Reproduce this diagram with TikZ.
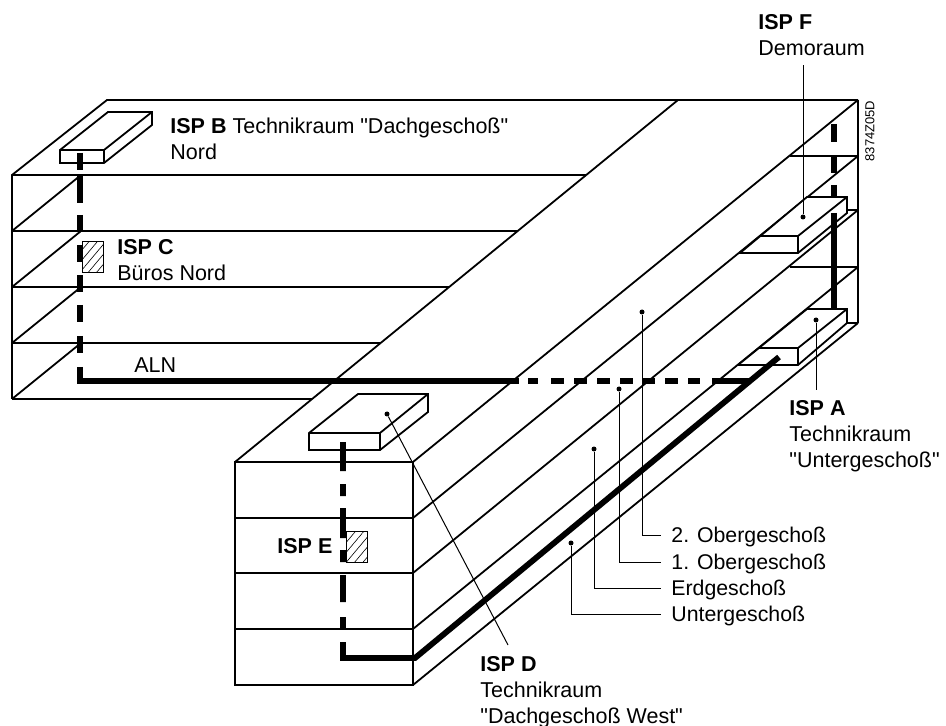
\documentclass[tikz,border=0pt]{standalone}
\usepackage{fontspec}
\setmainfont{Liberation Sans}
\newfontfamily\ispfont{Liberation Sans}
\usetikzlibrary{arrows.meta,positioning,calc,patterns.meta}

\begin{document}
\begin{tikzpicture}[x=0.5pt,y=-0.5pt,line join=miter]
\tikzstyle{wall}=[draw,line width=0.9pt]
\tikzstyle{platform}=[draw,fill=white,line width=0.9pt]
\tikzstyle{cable}=[draw,line width=2.9pt]
\tikzstyle{lead}=[draw,line width=0.5pt]
\tikzstyle{spot}=[circle,fill=black,inner sep=0pt,minimum size=2.5pt]
\tikzstyle{isp}=[inner sep=0pt,anchor=north west,align=left,font=\ispfont\fontsize{10.75}{13}\selectfont]
\tikzstyle{floorname}=[inner sep=0pt,inner xsep=5pt,text height=8.5pt,text depth=1.5pt,anchor=west,font=\ispfont\fontsize{10.65}{13}\selectfont]
\tikzstyle{hatch}=[draw,line width=0.5pt,preaction={fill=white},pattern={Lines[angle=50,distance=3.2pt,line width=0.3pt]}]
\useasboundingbox (0,0) rectangle (946,726);
% north wing
\draw[wall] (12,399) -- (12,175) -- (107,100) -- (858,100);
\foreach \y/\x in {175/586,231/518,287/449,343/381,399/312} \draw[wall] (12,\y) -- (\x,\y);
\foreach \a/\b in {231/175,287/231,343/287,399/343} \draw[wall] (12,\a) -- (81,\b);
% west wing
\draw[wall] (235,462) rectangle (413,685);
\foreach \y in {518,573,629} \draw[wall] (235,\y) -- (413,\y);
\draw[wall] (235,462) -- (678,100);
\foreach \a/\b in {462/100,518/156,573/210,629/267,685/323} \draw[wall] (413,\a) -- (858,\b);
\draw[wall] (858,100) -- (858,323);
\draw[wall] (790,156) -- (858,156);
\draw[wall] (792,210) -- (858,210);
\draw[wall] (790,267) -- (858,267);
\draw[wall] (830,323) -- (858,323);
% rooms
\draw[platform] (108,112) -- (152,112) -- (152,125) -- (104,163) -- (60,163) -- (60,150) -- cycle;
\draw[wall] (60,150) -- (104,150) -- (152,112) (104,150) -- (104,163);
\draw[platform] (358,394) -- (428,394) -- (428,412) -- (380,450) -- (309,450) -- (309,433) -- cycle;
\draw[wall] (309,433) -- (380,433) -- (428,394) (380,433) -- (380,450);
\draw[platform] (807,197) -- (847,197) -- (847,213) -- (798,253) -- (740,253) -- cycle;
\draw[wall] (760,236) -- (798,236) -- (847,197) (798,236) -- (798,253);
\draw[platform] (807,309) -- (847,309) -- (847,323) -- (798,365) -- (738,365) -- cycle;
\draw[wall] (758,348) -- (798,348) -- (847,309) (798,348) -- (798,365);
% cables
\coordinate (bTop) at (80,153);
\coordinate (bFoot) at (80,381);
\coordinate (aEnd) at (749,381);
\coordinate (dTop) at (343,442);
\coordinate (dFoot) at (343,658);
\coordinate (dCorner) at (415,658);
\coordinate (aTip) at (779,357);
\coordinate (fTop) at (834,124);
\coordinate (fFoot) at (834,310);
\draw[cable,dash pattern=on 8.5pt off 3pt on 13.5pt off 6pt on 8.5pt off 6.5pt on 8.5pt off 6.5pt on 8.5pt off 6.5pt on 8.5pt off 7pt on 8.5pt off 7pt on 226.5pt off 4.5pt on 5pt off 6.5pt on 6.5pt off 5pt on 6.5pt off 5pt on 6.5pt off 5pt on 6.5pt off 4.5pt on 6.5pt off 5pt on 6.5pt off 5pt on 6pt off 6pt on 20pt] (bTop) -- (bFoot) -- (aEnd);
\draw[cable,dash pattern=on 14.5pt off 6.5pt on 6pt off 6pt on 15pt off 6pt on 6pt off 6.5pt on 13.5pt off 7.5pt on 6pt off 6.5pt on 500pt] (dTop) -- (dFoot) -- (dCorner) -- (aTip);
\draw[cable,dash pattern=on 9pt off 7pt on 8.5pt off 6pt on 6pt off 8pt on 48.5pt] (fTop) -- (fFoot);
\draw[hatch] (82,242) rectangle (103,273);
\draw[hatch] (346,531) rectangle (367,562);
% labels
\node[isp] (ispB) at (170,118) {\textbf{ISP B} Technikraum "Dachgeschoß"\\Nord};
\node[isp] (ispC) at (117,239) {\textbf{ISP C}\\Büros Nord};
\node[isp,anchor=base west] (aln) at (134,372) {ALN};
\node[isp,anchor=base west] (ispE) at (277,553) {\textbf{ISP E}};
\node[isp] (ispF) at (758,14) {\textbf{ISP F}\\Demoraum};
\node[isp] (ispA) at (789,400) {\textbf{ISP A}\\Technikraum\\"Untergeschoß"};
\node[isp] (ispD) at (480,656) {\textbf{ISP D}\\Technikraum\\"Dachgeschoß West"};
\node[rotate=90,inner sep=0pt,font=\fontsize{6.5}{8}\selectfont] (code) at (870,131) {8374Z05D};
\node[floorname] (og2) at (661,535) {2. Obergeschoß};
\node[floorname] (og1) at (661,562) {1. Obergeschoß};
\node[floorname] (eg) at (661,588) {Erdgeschoß};
\node[floorname] (ug) at (661,614) {Untergeschoß};
% leaders
\node[spot] (sF) at (803,217) {};
\node[spot] (sA) at (816,320) {};
\node[spot] (sD) at (387,414) {};
\node[spot] (s2) at (642,312) {};
\node[spot] (s1) at (619,389) {};
\node[spot] (s0) at (594,449) {};
\node[spot] (su) at (571,543) {};
\coordinate (eF) at (803,65);
\coordinate (eA) at (816,390);
\coordinate (eD) at (508,645);
\draw[lead] (sF) -- (eF);
\draw[lead] (sA) -- (eA);
\draw[lead] (sD) -- (eD);
\draw[lead] (s2) |- (og2.west);
\draw[lead] (s1) |- (og1.west);
\draw[lead] (s0) |- (eg.west);
\draw[lead] (su) |- (ug.west);
\end{tikzpicture}
\end{document}
